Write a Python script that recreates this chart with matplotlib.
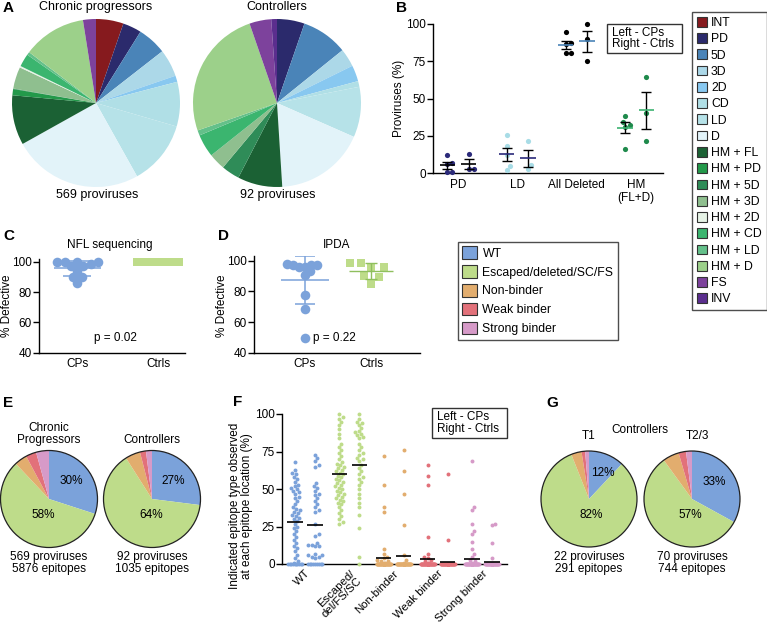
import numpy as np
import matplotlib
matplotlib.use("Agg")
import matplotlib.pyplot as plt
from matplotlib.patches import Circle, Patch, Rectangle

plt.rcParams['font.family'] = ['Liberation Sans', 'DejaVu Sans']
plt.rcParams['font.size'] = 8

# ---- panel A: provirus classes (% of proviruses)
a_labels = ['INT', 'PD', '5D', '3D', '2D', 'CD', 'LD', 'D', 'HM + FL', 'HM + PD', 'HM + 5D',
            'HM + 3D', 'HM + 2D', 'HM + CD', 'HM + LD', 'HM + D', 'FS', 'INV']
a_colors = ['#861a1e', '#2b2a6c', '#4a84b8', '#acd8e8', '#88c8f0', '#b0dfe6', '#b6e2e8', '#e2f3f9',
            '#1b6134', '#23994a', '#2f8c58', '#8fbf8f', '#e6f3e6', '#3bb56f', '#64c08a', '#9cd08a',
            '#7d429c', '#5b2e8e']
a_cp = [5.3, 3.6, 5.6, 5.3, 1.2, 8.6, 12.4, 25.1, 9.6, 1.2, 0.1, 4.2, 0.3, 2.5, 0.6, 12.2, 2.5, 0]
a_ctrl = [0, 5.3, 8.9, 3.5, 3.1, 1.1, 9.7, 17.4, 8.6, 0, 3.5, 3.2, 0, 4.4, 1.0, 25.0, 4.2, 1.1]

# ---- panel B: % proviruses per donor
b_cats = ['PD', 'LD', 'All Deleted', 'HM\n(FL+D)']
b_cp = [[12.3, 6.5, 6.0, 0.5, 0.5], [25.8, 18.3, 12.0, 2.2, 4.9],
        [94.4, 87.0, 86.4, 80.8, 80.8], [38.0, 34.0, 32.0, 31.0, 16.3]]
b_ctrl = [[12.7, 3.0, 3.0], [21.4, 2.7, 5.1], [100.0, 89.7, 75.4], [64.7, 40.2, 21.2]]
b_dot_colors = ['#2b2a7a', '#a8dce6', '#000000', '#1f8a4c']
b_mean_colors = ['#000000', '#2b2a7a', '#4a84b8', '#3cb371']

# ---- panels C, D: % defective
c_cp = [100, 100, 100, 99.5, 98.5, 97, 97, 94, 90, 90, 86]
c_ctrl = [100, 100, 100, 100, 100, 100, 100]
d_cp = [97.6, 96.1, 96.1, 97.2, 97.2, 97.2, 93.3, 90.7, 77.6, 68.3, 49.3]
d_ctrl = [98.7, 96.1, 98.7, 96.1, 90.0, 89.6, 84.6]

# ---- panels E, G: epitope types (%)
ep_labels = ['WT', 'Escaped/deleted/SC/FS', 'Non-binder', 'Weak binder', 'Strong binder']
ep_colors = ['#7ba2da', '#bedc8a', '#e2ad6e', '#e2717a', '#d69ac8']
e_cp = [30, 58, 4.2, 3.5, 4.3]
e_ctrl = [27, 64, 5, 2, 2]
g_t1 = [12, 82, 3.5, 1.2, 1.3]
g_t23 = [33, 57, 5.5, 2.5, 2.0]

# ---- panel F: % of each epitope type at each epitope location
f_cats = ['WT', 'Escaped/\ndel/FS/SC', 'Non-binder', 'Weak binder', 'Strong binder']
f_cp = [
    [68, 63, 61, 60, 58, 57, 55, 53, 52, 51, 50, 49, 48, 47, 45, 44, 42, 40, 38, 37, 36, 35, 34, 33,
     32, 31, 30, 29, 27, 25, 24, 22, 20, 18, 16, 14, 12, 11, 9, 6, 4, 2, 1] + [0] * 10,
    [100, 98, 97, 95, 93, 90, 87, 84, 80, 78, 76, 74, 72, 70, 68, 67, 66, 65, 64, 63, 62, 61, 60, 59,
     58, 57, 56, 55, 54, 53, 52, 51, 50, 49, 48, 47, 46, 45, 44, 43, 42, 41, 40, 38, 36, 34, 32, 30,
     28, 27],
    [72, 53, 38, 35, 10, 7, 5, 4, 3, 2, 2, 1, 1] + [0] * 50,
    [66, 59, 53, 18, 7, 5, 4, 3, 2, 1, 1] + [0] * 59,
    [69, 38, 36, 27, 22, 20, 15, 10, 7, 5, 3, 2, 1] + [0] * 57,
]
f_ctrl = [
    [73, 71, 69, 66, 65, 54, 52, 51, 49, 47, 46, 44, 42, 40, 38, 36, 35, 27, 20, 19, 14, 13, 13, 12,
     12, 7, 6, 6, 5, 5, 4] + [0] * 9,
    [100, 97, 95, 94, 93, 91, 89, 88, 87, 86, 85, 84, 80, 78, 76, 74, 73, 71, 70, 69, 66, 64, 62, 60,
     58, 57, 55, 53, 50, 47, 44, 41, 38, 33, 24, 5, 0],
    [76, 62, 47, 26, 6, 3, 1] + [0] * 36,
    [60, 16] + [0] * 48,
    [27, 26, 14, 4] + [0] * 51,
]

W, H = 767, 623
fig = plt.figure(figsize=(W / 100, H / 100), dpi=100)


def add_ax(l, t, r, b):
    return fig.add_axes([l / W, 1 - b / H, (r - l) / W, (b - t) / H])


def ftext(x, y, s, **kw):
    kw.setdefault('ha', 'center')
    kw.setdefault('va', 'center')
    fig.text(x / W, 1 - y / H, s, **kw)


def swarm(vals, ppy, d, maxw):
    # horizontal offsets (px) so dots d px apart, never wider than +-maxw
    vals = np.asarray(vals, float)
    ys = vals * ppy
    steps = np.arange(0.5, maxw + 0.01, 0.5)
    cands = np.concatenate([[0.0], np.ravel(np.column_stack([steps, -steps]))])
    xs = np.zeros(len(vals))
    placed = np.empty((0, 2))
    for i in np.argsort(vals, kind='stable'):
        if len(placed):
            md = np.hypot(cands[:, None] - placed[None, :, 0], ys[i] - placed[None, :, 1]).min(axis=1)
            ok = np.nonzero(md >= d)[0]
            c = cands[ok[0]] if len(ok) else cands[np.argmax(md)]
        else:
            c = 0.0
        xs[i] = c
        placed = np.vstack([placed, [c, ys[i]]])
    return xs


def style(ax):
    for s in ['top', 'right']:
        ax.spines[s].set_visible(False)
    for s in ['left', 'bottom']:
        ax.spines[s].set_linewidth(1)
    ax.tick_params(axis='y', length=4, width=1, pad=1, labelsize=8.5)
    ax.tick_params(axis='x', length=0, pad=4, labelsize=8.5)


def label_at(ax, x, y):
    # x = right edge of the rotated y label, y = its centre (figure pixels)
    fx, fy = fig.transFigure.transform((x / W, 1 - y / H))
    ax.yaxis.set_label_coords(*ax.transAxes.inverted().transform((fx, fy)))


def pie(cx, cy, r, vals, colors, outline=False):
    ax = add_ax(cx - r, cy - r, cx + r, cy + r)
    ax.pie(vals, colors=colors, startangle=90, counterclock=False, radius=1,
           wedgeprops=dict(linewidth=0))
    if outline:
        ax.add_patch(Circle((0, 0), 1, fill=False, lw=0.9, ec='#222222', clip_on=False))
    ax.set_xlim(-1, 1)
    ax.set_ylim(-1, 1)
    ax.set_aspect('equal')
    ax.axis('off')
    return ax


# panel letters
for lx, ly, lt in [(3, 8, 'A'), (396, 8, 'B'), (3, 236, 'C'), (218, 236, 'D'),
                   (3, 403, 'E'), (233, 402, 'F'), (546, 403, 'G')]:
    ftext(lx, ly, lt, ha='left', fontsize=11, fontweight='bold')

# ---------------- A
pie(96, 103, 84, a_cp, a_colors)
pie(277, 103, 84, a_ctrl, a_colors)
ftext(96, 7, 'Chronic progressors', fontsize=9)
ftext(277, 7, 'Controllers', fontsize=9)
ftext(97, 195, '569 proviruses', fontsize=9)
ftext(278, 195, '92 proviruses', fontsize=9)

# ---------------- B
axb = add_ax(433, 24, 663, 173)
style(axb)
ppx_b, ppy_b = 59.3, 1.49
for i in range(4):
    for vals, off in [(b_cp[i], -0.18), (b_ctrl[i], 0.18)]:
        v = np.array(vals)
        xs = i + off + swarm(v, ppy_b, 5, 8) / ppx_b
        axb.scatter(xs, v, s=14, color=b_dot_colors[i], lw=0, clip_on=False, zorder=3)
        m = v.mean()
        sem = v.std(ddof=1) / np.sqrt(len(v))
        axb.errorbar(i + off, m, yerr=sem, color='k', lw=1, capsize=3.5, capthick=1, zorder=4)
        axb.hlines(m, i + off - 0.13, i + off + 0.13, color=b_mean_colors[i], lw=1.2, zorder=5)
axb.set_xlim(-0.42, 3.46)
axb.set_ylim(0, 100)
axb.set_yticks([0, 25, 50, 75, 100])
axb.set_xticks(range(4))
axb.set_xticklabels(b_cats, fontsize=8.5)
axb.set_ylabel('Proviruses (%)', fontsize=8.5)
label_at(axb, 405, 98)
axb.add_patch(Rectangle((607 / W, 1 - 53 / H), 75 / W, 29 / H, transform=fig.transFigure,
                        fill=False, lw=1, ec='#333333', clip_on=False))
ftext(612, 38.5, 'Left - CPs\nRight - Ctrls', ha='left', fontsize=8.5, linespacing=1.0)

# big legend
fig.legend(handles=[Patch(fc=c, ec='#333333', lw=0.8) for c in a_colors], labels=a_labels,
           loc='upper left', bbox_to_anchor=(692 / W, 1 - 12 / H), frameon=True, fancybox=False,
           edgecolor='#222222', fontsize=8.8, handlelength=0.85, handleheight=0.85,
           handletextpad=0.3, labelspacing=0.34, borderpad=0.4, borderaxespad=0)

# ---------------- C
axc = add_ax(39, 258.7, 185, 352.7)
style(axc)
ppx_c, ppy_c = 81, 1.5167
v = np.array(c_cp)
axc.scatter(swarm(v, ppy_c, 7.5, 25) / ppx_c, v, s=48, marker='o', color=ep_colors[0], lw=0,
            clip_on=False, zorder=3)
m, sd = v.mean(), v.std(ddof=1)
axc.errorbar(0, m, yerr=sd, color=ep_colors[0], lw=1.1, capsize=10, capthick=1.1, zorder=4)
axc.hlines(m, -0.29, 0.29, color=ep_colors[0], lw=1.1, zorder=4)
v = np.array(c_ctrl)
axc.scatter(1 + swarm(v, ppy_c, 7, 25) / ppx_c, v, s=40, marker='s', color=ep_colors[1], lw=0,
            clip_on=False, zorder=3)
axc.set_xlim(-0.47, 1.33)
axc.set_ylim(40, 102)
axc.set_yticks([40, 60, 80, 100])
axc.set_xticks([0, 1])
axc.set_xticklabels(['CPs', 'Ctrls'])
axc.set_ylabel('% Defective', fontsize=8.5)
label_at(axc, 13, 306)
axc.text(0.47, 49.5, 'p = 0.02', ha='center', va='center', fontsize=8.5)
ftext(110, 245, 'NFL sequencing', fontsize=8.5)

# ---------------- D
axd = add_ax(254, 256.2, 420, 352.7)
style(axd)
ppx_d, ppy_d = 66, 1.5167
v = np.array(d_cp)
axd.scatter(swarm(v, ppy_d, 6, 22) / ppx_d, v, s=48, marker='o', color=ep_colors[0], lw=0,
            clip_on=False, zorder=3)
m, sd = v.mean(), v.std(ddof=1)
axd.errorbar(0, m, yerr=sd, color=ep_colors[0], lw=1.1, capsize=7, capthick=1.1, zorder=4)
axd.hlines(m, -0.36, 0.36, color=ep_colors[0], lw=1.1, zorder=4)
v = np.array(d_ctrl)
axd.scatter(1 + swarm(v, ppy_d, 11, 24) / ppx_d, v, s=40, marker='s', color=ep_colors[1], lw=0,
            clip_on=False, zorder=3)
m, sd = v.mean(), v.std(ddof=1)
axd.errorbar(1, m, yerr=sd, color='#8fbf5e', lw=1.0, capsize=4, capthick=1.0, zorder=4)
axd.hlines(m, 0.67, 1.33, color='#8fbf5e', lw=1.0, zorder=4)
axd.set_xlim(-0.77, 1.74)
axd.set_ylim(40, 103)
axd.set_yticks([40, 60, 80, 100])
axd.set_xticks([0, 1])
axd.set_xticklabels(['CPs', 'Ctrls'])
axd.set_ylabel('% Defective', fontsize=8.5)
label_at(axd, 228, 306)
axd.text(0.12, 49.3, 'p = 0.22', ha='left', va='center', fontsize=8.5)
ftext(337, 245, 'IPDA', fontsize=8.5)

# epitope legend
fig.legend(handles=[Patch(fc=c, ec='#333333', lw=0.8) for c in ep_colors], labels=ep_labels,
           loc='upper left', bbox_to_anchor=(458 / W, 1 - 242 / H), frameon=True, fancybox=False,
           edgecolor='#222222', fontsize=8.8, handlelength=1.2, handleheight=1.2,
           handletextpad=0.45, labelspacing=0.45, borderpad=0.35, borderaxespad=0)

# ---------------- E
pie(49, 499, 48.5, e_cp, ep_colors, outline=True)
pie(152, 499, 48.5, e_ctrl, ep_colors, outline=True)
ftext(49, 434, 'Chronic\nProgressors', fontsize=8.5, linespacing=1.0)
ftext(152, 440, 'Controllers', fontsize=8.5)
ftext(71, 481, '30%', fontsize=8.5)
ftext(43, 515, '58%', fontsize=8.5)
ftext(173, 481, '27%', fontsize=8.5)
ftext(151, 515, '64%', fontsize=8.5)
ftext(49, 563, '569 proviruses\n5876 epitopes', fontsize=8.5, linespacing=1.0)
ftext(152, 563, '92 proviruses\n1035 epitopes', fontsize=8.5, linespacing=1.0)

# ---------------- F
axf = add_ax(282, 414, 507, 564)
style(axf)
ppx_f, ppy_f = 44.25, 1.5
for i in range(5):
    for vals, off in [(f_cp[i], -0.226), (f_ctrl[i], 0.226)]:
        v = np.array(vals, float)
        xs = i + off + swarm(v, ppy_f, 3.6, 7) / ppx_f
        axf.scatter(xs, v, s=8, color=ep_colors[i], lw=0, clip_on=False, zorder=3)
        axf.hlines(v.mean(), i + off - 0.17, i + off + 0.17, color='k', lw=1.2, zorder=4)
axf.set_xlim(-0.52, 4.565)
axf.set_ylim(0, 100)
axf.set_yticks([0, 25, 50, 75, 100])
axf.set_xticks(range(5))
axf.tick_params(axis='x', pad=3)
axf.set_xticklabels(f_cats, rotation=45, ha='right', rotation_mode='anchor', fontsize=8.2,
                    linespacing=1.0)
axf.set_ylabel('Indicated epitope type observed\nat each epitope location (%)', fontsize=8.5,
               linespacing=1.0)
label_at(axf, 253, 506)
axf.add_patch(Rectangle((432 / W, 1 - 438 / H), 75 / W, 30 / H, transform=fig.transFigure,
                        fill=False, lw=1, ec='#333333', clip_on=False))
ftext(437, 423, 'Left - CPs\nRight - Ctrls', ha='left', fontsize=8.5, linespacing=1.0)

# ---------------- G
pie(589, 499, 48, g_t1, ep_colors, outline=True)
pie(692, 499, 48, g_t23, ep_colors, outline=True)
ftext(640, 430, 'Controllers', fontsize=8.5)
ftext(589, 436, 'T1', fontsize=8.5)
ftext(697, 436, 'T2/3', fontsize=8.5)
ftext(603, 473, '12%', fontsize=8.5)
ftext(591, 515, '82%', fontsize=8.5)
ftext(714, 482, '33%', fontsize=8.5)
ftext(690, 515, '57%', fontsize=8.5)
ftext(589, 563, '22 proviruses\n291 epitopes', fontsize=8.5, linespacing=1.0)
ftext(692, 563, '70 proviruses\n744 epitopes', fontsize=8.5, linespacing=1.0)

fig.savefig('out.png', dpi=100)
